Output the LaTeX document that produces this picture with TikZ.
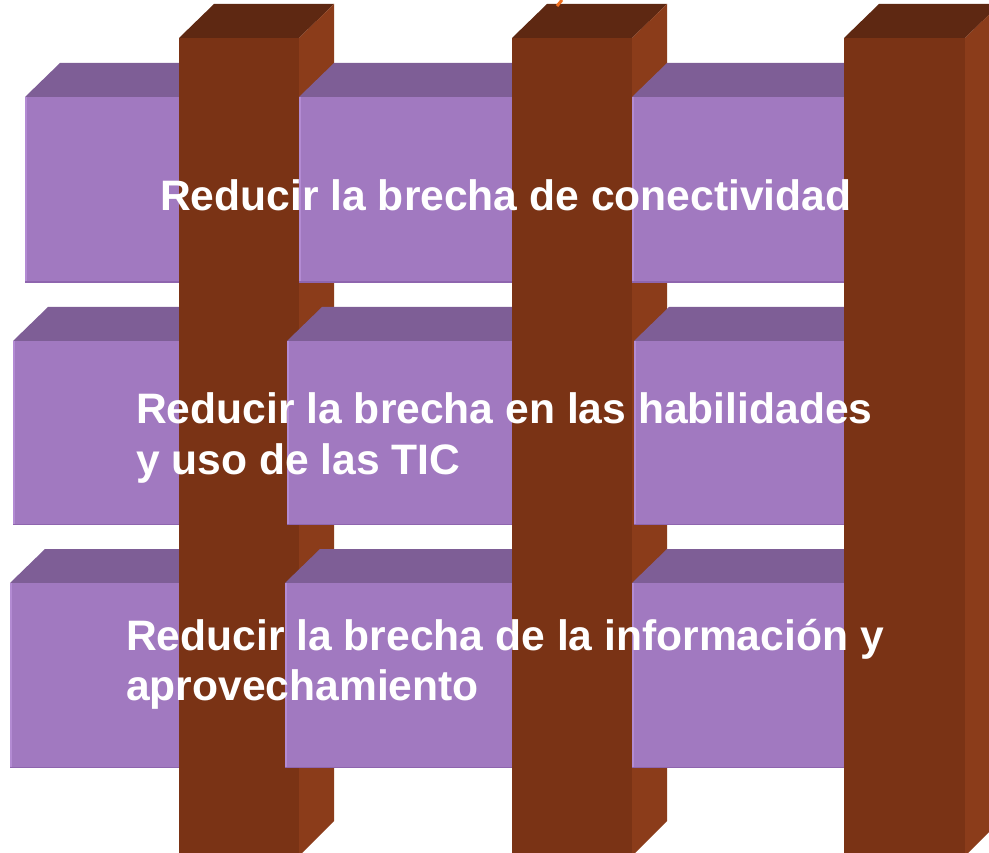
\documentclass[tikz,border=0pt]{standalone}
\usepackage{fontspec}
\setmainfont{Liberation Sans}
\definecolor{pfront}{HTML}{A179C0}
\definecolor{ptop}{HTML}{7E5E96}
\definecolor{pedge}{HTML}{B38BD3}
\definecolor{pbot}{HTML}{8E65AE}
\definecolor{bfront}{HTML}{7A3315}
\definecolor{btop}{HTML}{5E2812}
\definecolor{bside}{HTML}{8B3C1A}
\definecolor{omark}{HTML}{F07020}
\tikzset{
  lbl/.style={text=white, font=\fontsize{42.6}{50}\selectfont\bfseries, inner sep=0pt, anchor=base west},
}
% box: #1 left, #2 right, #3 top-face y, #4 bottom
\newcommand{\wbox}[4]{%
  \fill[ptop] (#1,#3+34) -- (#1+35,#3) -- (#2+35,#3) -- (#2,#3+34) -- cycle;
  \fill[pfront] (#1,#3+34) rectangle (#2,#4);
  \draw[pedge, line width=1.5pt] (#1+0.75,#3+34) -- (#1+0.75,#4);
  \draw[pbot, line width=1.5pt] (#1,#4-0.75) -- (#2,#4-0.75);
}
% pillar: #1 left, #2 right
\newcommand{\wpillar}[2]{%
  \fill[btop] (#1,38) -- (#1+35,4) -- (#2+35,4) -- (#2,38) -- cycle;
  \fill[bside] (#2,38) -- (#2+35,4) -- (#2+35,821) -- (#2,856) -- cycle;
  \fill[bfront] (#1,38) rectangle (#2,856);
}
\begin{document}
\begin{tikzpicture}[x=1pt,y=-1pt]
\useasboundingbox (0,0) rectangle (989,853);
\clip (0,0) rectangle (989,853);
% behind pillar 1
\wbox{25}{250}{63}{283}
\wbox{13}{250}{307}{525}
\wbox{10}{250}{549}{768}
\wpillar{179}{299}
\wbox{299}{560}{63}{283}
\wbox{287}{560}{307}{525}
\wbox{285}{560}{549}{768}
\wpillar{512}{632}
\wbox{632}{900}{63}{283}
\wbox{634}{900}{307}{525}
\wbox{632}{900}{549}{768}
\wpillar{844}{965}
% orange fragment at top
\draw[omark, line width=3pt] (562,0) -- (557,6);
% texts
\node[lbl] (t1) at (160,211) {Reducir la brecha de conectividad};
\node[lbl] (t2a) at (136,424) {Reducir la brecha en las habilidades};
\node[lbl] (t2b) at (136,474) {y uso de las TIC};
\node[lbl] (t3a) at (126,650) {Reducir la brecha de la información y};
\node[lbl] (t3b) at (126,700) {aprovechamiento};
\end{tikzpicture}
\end{document}
